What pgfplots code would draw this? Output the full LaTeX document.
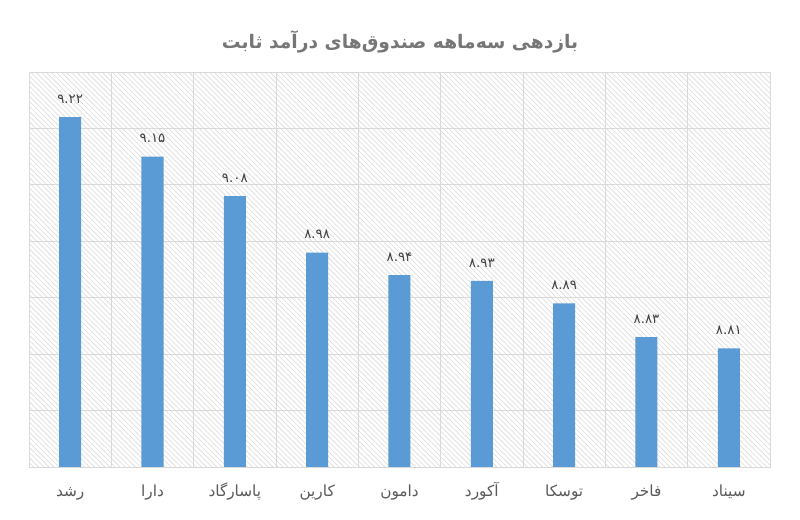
\documentclass[border=0pt]{standalone}
\usepackage{fontspec}
\usepackage{pgfplots}
\pgfplotsset{compat=1.18}
\usetikzlibrary{patterns.meta}
\TeXXeTstate=1
\newfontfamily\arabicfont[Script=Arabic]{DejaVu Sans}
\definecolor{barblue}{HTML}{5B9BD5}
\definecolor{gridgray}{HTML}{D9D9D9}
\definecolor{hatchgray}{HTML}{D9D9D9}
\definecolor{titlegray}{HTML}{767676}
\definecolor{txtgray}{HTML}{595959}
\definecolor{valgray}{HTML}{404040}
\begin{document}
\begin{tikzpicture}
\useasboundingbox (0,0) rectangle (600pt,390pt);
\node[text=titlegray, font=\arabicfont\bfseries\fontsize{14}{17}\selectfont] at (300pt,358.5pt) {\beginR بازدهی سه‌ماهه صندوق‌های درآمد ثابت\endR};
\begin{axis}[
  at={(21.75pt,39.75pt)}, anchor=south west,
  scale only axis, width=555.75pt, height=296.25pt,
  xmin=-0.5, xmax=8.5, ymin=8.6, ymax=9.3,
  xtick={0,1,2,3,4,5,6,7,8},
  xticklabels={
    {\beginR رشد\endR},{\beginR دارا\endR},{\beginR پاسارگاد\endR},{\beginR کارین\endR},{\beginR دامون\endR},{\beginR آکورد\endR},{\beginR توسکا\endR},{\beginR فاخر\endR},{\beginR سیناد\endR}},
  xticklabel style={font=\arabicfont\fontsize{11.5}{13}\selectfont, text=txtgray, anchor=base, yshift=-22pt},
  minor xtick={-0.5,0.5,1.5,2.5,3.5,4.5,5.5,6.5,7.5,8.5},
  xminorgrids,
  ytick={8.6,8.7,8.8,8.9,9.0,9.1,9.2,9.3},
  yticklabels={},
  ymajorgrids,
  grid style={gridgray, line width=0.6pt},
  minor grid style={gridgray, line width=0.6pt},
  major tick length=0pt, minor tick length=0pt,
  axis line style={gridgray, line width=0.6pt},
  axis background/.style={pattern={Lines[angle=-45, distance=2.7pt, line width=0.45pt]}, pattern color=hatchgray},
  ybar, bar width=16.5pt,
  point meta=explicit symbolic,
  nodes near coords,
  nodes near coords style={font=\arabicfont\fontsize{10}{12}\selectfont, text=valgray, anchor=south, inner sep=0pt, yshift=10pt},
]
\addplot[fill=barblue, draw=none] table[meta=lab] {
x y lab
0 9.22 ۹.۲۲
1 9.15 ۹.۱۵
2 9.08 ۹.۰۸
3 8.98 ۸.۹۸
4 8.94 ۸.۹۴
5 8.93 ۸.۹۳
6 8.89 ۸.۸۹
7 8.83 ۸.۸۳
8 8.81 ۸.۸۱
};
\end{axis}
\end{tikzpicture}
\end{document}
